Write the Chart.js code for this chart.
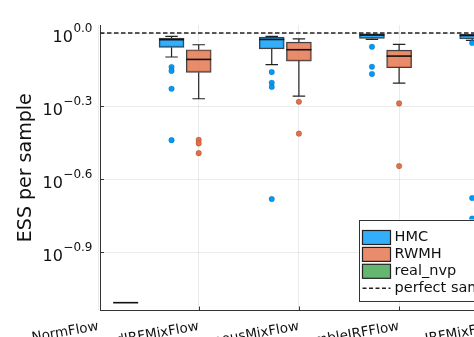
<!DOCTYPE html>
<html>
<head>
<meta charset="utf-8">
<script src="https://cdn.jsdelivr.net/npm/chart.js@4"></script>
<style>
html, body { margin: 0; padding: 0; overflow: hidden; background: #fff; }
#wrap { width: 600px; height: 337px; }
</style>
</head>
<body>
<div id="wrap"><canvas id="ess-chart" width="600" height="337"></canvas></div>
<script>
// ESS per sample, grouped box plot (log y axis)

const categories = ['NormFlow', 'BackwardIRFMixFlow', 'HomogeneousMixFlow', 'EnsembleIRFFlow', 'IRFMixFlow'];

// HMC boxes
const hmcLow    = [null, 0.797, 0.741, 0.941, 0.932];
const hmcQ1     = [null, 0.873, 0.860, 0.950, 0.945];
const hmcMedian = [null, 0.939, 0.941, 0.981, 0.977];
const hmcQ3     = [null, 0.954, 0.963, 0.993, 0.987];
const hmcHigh   = [null, 0.968, 0.968, 0.993, 0.987];
const hmcOutliers = [[], [0.725, 0.699, 0.590, 0.363], [0.691, 0.625, 0.600, 0.208], [0.878, 0.727, 0.679], [0.910, 0.210, 0.173]];

// RWMH boxes
const rwmhLow    = [null, 0.537, 0.551, 0.623, null];
const rwmhQ1     = [null, 0.689, 0.767, 0.720, null];
const rwmhMedian = [null, 0.779, 0.854, 0.804, null];
const rwmhQ3     = [null, 0.854, 0.918, 0.851, null];
const rwmhHigh   = [null, 0.895, 0.947, 0.898, null];
const rwmhOutliers = [[], [0.364, 0.352, 0.321], [0.522, 0.386], [0.514, 0.284], []];

// real_nvp boxes
const nvpLow    = [0.078, null, null, null, null];
const nvpQ1     = [0.078, null, null, null, null];
const nvpMedian = [0.078, null, null, null, null];
const nvpQ3     = [0.078, null, null, null, null];
const nvpHigh   = [0.078, null, null, null, null];
const nvpOutliers = [[], [], [], [], []];

const perfectESS = 1;

const yTickExponents = [0.0, -0.3, -0.6, -0.9];
const yTickLabels = ['0.0', '\u22120.3', '\u22120.6', '\u22120.9'];
const legendLabels = ['HMC', 'RWMH', 'real_nvp', 'perfect sampling'];

const FONT = '"DejaVu Sans", sans-serif';
const X_MIN = 0.015, X_MAX = 4.96;
const Y_MIN = 0.07244, Y_MAX = 1.0789;
const BOX_W = 25;

const methods = [
    { name: 'HMC', low: hmcLow, q1: hmcQ1, median: hmcMedian, q3: hmcQ3, high: hmcHigh, outliers: hmcOutliers,
      offset: -0.271, fill: 'rgba(0,154,250,0.8)', dot: '#009AFA' },
    { name: 'RWMH', low: rwmhLow, q1: rwmhQ1, median: rwmhMedian, q3: rwmhQ3, high: rwmhHigh, outliers: rwmhOutliers,
      offset: 0, fill: 'rgba(227,111,71,0.8)', dot: '#E36F47' },
    { name: 'real_nvp', low: nvpLow, q1: nvpQ1, median: nvpMedian, q3: nvpQ3, high: nvpHigh, outliers: nvpOutliers,
      offset: 0.271, fill: 'rgba(62,164,78,0.8)', dot: '#3EA44E' }
];

const datasets = [];
methods.forEach(m => {
    datasets.push({
        type: 'bar',
        label: m.name,
        data: categories.map((c, i) => m.q1[i] == null ? null : { x: i + m.offset, y: [m.q1[i], m.q3[i]] }).filter(d => d),
        backgroundColor: m.fill,
        borderColor: 'rgba(0,0,0,0.75)',
        borderWidth: 1.2,
        borderSkipped: false,
        barThickness: BOX_W,
        grouped: false
    });
});
methods.forEach(m => {
    const pts = [];
    m.outliers.forEach((list, i) => list.forEach(v => pts.push({ x: i + m.offset, y: v })));
    datasets.push({
        type: 'scatter',
        label: m.name + ' outliers',
        data: pts,
        pointRadius: 2.8,
        pointBackgroundColor: m.dot,
        pointBorderColor: 'rgba(0,0,0,0.3)',
        pointBorderWidth: 0.5
    });
});
datasets.push({
    type: 'line',
    label: 'perfect sampling',
    data: [{ x: X_MIN, y: perfectESS }, { x: X_MAX, y: perfectESS }],
    borderColor: '#222',
    borderWidth: 1.5,
    borderDash: [4.5, 2.5],
    pointRadius: 0
});

// whiskers, medians, inward ticks, y labels with exponents, legend box
const boxExtras = {
    id: 'boxExtras',
    beforeDatasetsDraw(chart) {
        const ctx = chart.ctx, xs = chart.scales.x, ys = chart.scales.y;
        ctx.save();
        ctx.strokeStyle = '#222';
        ctx.lineWidth = 1.2;
        methods.forEach(m => {
            categories.forEach((c, i) => {
                if (m.q1[i] == null) return;
                const x = xs.getPixelForValue(i + m.offset);
                const cap = BOX_W / 4;
                const pairs = [[m.q3[i], m.high[i]], [m.q1[i], m.low[i]]];
                pairs.forEach(([from, to]) => {
                    if (from === to) return;
                    const y0 = ys.getPixelForValue(from), y1 = ys.getPixelForValue(to);
                    ctx.beginPath();
                    ctx.moveTo(x, y0); ctx.lineTo(x, y1);
                    ctx.moveTo(x - cap, y1); ctx.lineTo(x + cap, y1);
                    ctx.stroke();
                });
            });
        });
        ctx.restore();
    },
    afterDatasetsDraw(chart) {
        const ctx = chart.ctx, xs = chart.scales.x, ys = chart.scales.y;
        ctx.save();
        ctx.strokeStyle = '#111';
        ctx.lineWidth = 1.6;
        methods.forEach(m => {
            categories.forEach((c, i) => {
                if (m.median[i] == null) return;
                const x = xs.getPixelForValue(i + m.offset);
                const y = ys.getPixelForValue(m.median[i]);
                ctx.beginPath();
                ctx.moveTo(x - BOX_W / 2, y); ctx.lineTo(x + BOX_W / 2, y);
                ctx.stroke();
            });
        });
        ctx.restore();
    },
    afterDraw(chart) {
        const ctx = chart.ctx, xs = chart.scales.x, ys = chart.scales.y, area = chart.chartArea;
        ctx.save();
        // inward tick marks
        ctx.strokeStyle = '#333';
        ctx.lineWidth = 1;
        yTickExponents.forEach(e => {
            const y = Math.round(ys.getPixelForValue(Math.pow(10, e))) + 0.5;
            ctx.beginPath(); ctx.moveTo(area.left, y); ctx.lineTo(area.left + 4, y); ctx.stroke();
        });
        categories.forEach((c, i) => {
            const x = xs.getPixelForValue(i);
            if (x < area.left || x > area.right) return;
            ctx.beginPath(); ctx.moveTo(Math.round(x) + 0.5, area.bottom); ctx.lineTo(Math.round(x) + 0.5, area.bottom - 4); ctx.stroke();
        });
        // y tick labels 10^e
        ctx.fillStyle = '#111';
        ctx.textAlign = 'right';
        ctx.textBaseline = 'alphabetic';
        yTickExponents.forEach((e, k) => {
            const y = ys.getPixelForValue(Math.pow(10, e));
            const right = area.left - 7.5;
            ctx.font = '12px ' + FONT;
            const w = ctx.measureText(yTickLabels[k]).width;
            ctx.fillText(yTickLabels[k], right, y - 1.5);
            ctx.font = '16px ' + FONT;
            ctx.fillText('10', right - w - 0.5, y + 8.5);
        });
        // legend
        const lx = area.left + 258.5, lw = 170, lh = 81;
        const ly = area.bottom - 10 - lh;
        ctx.fillStyle = '#fff';
        ctx.fillRect(lx, ly, lw, lh);
        ctx.strokeStyle = '#333';
        ctx.lineWidth = 1;
        ctx.strokeRect(Math.round(lx) + 0.5, Math.round(ly) + 0.5, lw, lh);
        ctx.font = '14.5px ' + FONT;
        ctx.textAlign = 'left';
        ctx.textBaseline = 'middle';
        legendLabels.forEach((label, k) => {
            const cy = ly + 18 + k * 16.9;
            if (k < methods.length) {
                ctx.fillStyle = methods[k].fill;
                ctx.fillRect(lx + 4, cy - 7, 28, 14);
                ctx.strokeStyle = '#222';
                ctx.lineWidth = 1.2;
                ctx.strokeRect(lx + 4, cy - 7, 28, 14);
            } else {
                ctx.strokeStyle = '#222';
                ctx.lineWidth = 1.5;
                ctx.setLineDash([4, 2.5]);
                ctx.beginPath(); ctx.moveTo(lx + 4, cy); ctx.lineTo(lx + 32, cy); ctx.stroke();
                ctx.setLineDash([]);
            }
            ctx.fillStyle = '#111';
            ctx.fillText(label, lx + 36, cy);
        });
        ctx.restore();
    }
};

new Chart(document.getElementById('ess-chart'), {
    type: 'bar',
    data: { datasets: datasets },
    options: {
        responsive: false,
        animation: false,
        layout: { padding: { top: 25, right: 0, bottom: 0, left: 0 } },
        plugins: {
            legend: { display: false },
            tooltip: { enabled: false }
        },
        scales: {
            x: {
                type: 'linear',
                min: X_MIN,
                max: X_MAX,
                bounds: 'data',
                offset: false,
                afterBuildTicks: scale => { scale.ticks = categories.map((c, i) => ({ value: i })); },
                afterFit: scale => {
                    scale.height = 26.5;
                    scale.paddingLeft = 0;
                    scale.paddingRight = 0;
                },
                grid: { color: 'rgba(0,0,0,0.08)', drawTicks: false, offset: false },
                border: { display: true, color: '#333', width: 1 },
                ticks: {
                    callback: value => categories[value],
                    minRotation: 10,
                    maxRotation: 10,
                    autoSkip: false,
                    padding: 8,
                    color: '#111',
                    font: { family: FONT, size: 13.5 }
                }
            },
            y: {
                type: 'logarithmic',
                min: Y_MIN,
                max: Y_MAX,
                afterBuildTicks: scale => { scale.ticks = yTickExponents.map(e => ({ value: Math.pow(10, e) })); },
                afterFit: scale => { scale.width = 100; },
                grid: { color: 'rgba(0,0,0,0.08)', drawTicks: false },
                border: { display: true, color: '#333', width: 1 },
                ticks: { display: false },
                title: {
                    display: true,
                    text: 'ESS per sample',
                    color: '#111',
                    font: { family: FONT, size: 19 },
                    padding: { top: 15, bottom: 0 }
                }
            }
        }
    },
    plugins: [boxExtras]
});
</script>
</body>
</html>
